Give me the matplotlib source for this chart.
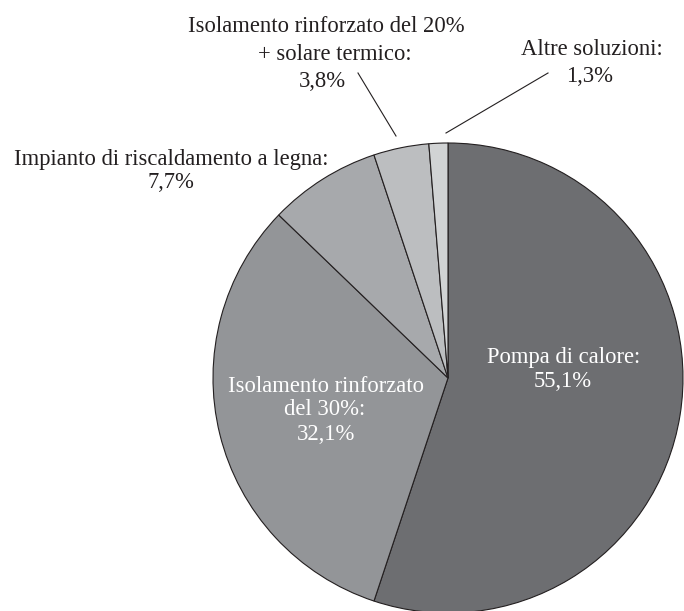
import matplotlib
matplotlib.use("Agg")
import matplotlib.pyplot as plt

categories = ["Pompa di calore", "Isolamento rinforzato del 30%", "Impianto di riscaldamento a legna",
              "Isolamento rinforzato del 20% + solare termico", "Altre soluzioni"]
values = [55.1, 32.1, 7.7, 3.8, 1.3]
colors = ["#6d6e71", "#939598", "#a7a9ac", "#bcbec0", "#d1d3d4"]

plt.rcParams['font.family'] = ['Liberation Serif', 'DejaVu Serif']

fig = plt.figure(figsize=(6.84, 6.11), dpi=100)
ax = fig.add_axes([0, 0, 1, 1])
cx, cy, r = 448, 611 - 378, 235
ax.pie(values, colors=colors, startangle=90, counterclock=False, center=(cx, cy), radius=r,
       wedgeprops=dict(edgecolor="#231f20", linewidth=0.8))
ax.set_xlim(0, 684)
ax.set_ylim(0, 611)
ax.set_aspect('equal')
ax.axis('off')

fs = 16.3
def Y(y):
    return 611 - y

def lines(items, color):
    for x, y, s in items:
        ax.text(x, Y(y), s, color=color, ha="center", va="baseline", fontsize=fs)

lines([(564, 363, "Pompa di calore:"), (563, 387, "55,1%")], "white")
lines([(326, 392, "Isolamento rinforzato"), (325, 415, "del 30%:"), (326, 440, "32,1%")], "white")
lines([(171, 165, "Impianto di riscaldamento a legna:"), (171, 188, "7,7%")], "#231f20")
lines([(326, 32, "Isolamento rinforzato del 20%"), (335, 59.5, "+ solare termico:"), (322, 87, "3,8%")], "#231f20")
lines([(592, 55, "Altre soluzioni:"), (590, 82, "1,3%")], "#231f20")

ax.plot([358, 396], [Y(73), Y(136)], color="#231f20", lw=0.8)
ax.plot([548, 446], [Y(73), Y(133)], color="#231f20", lw=0.8)

fig.savefig("out.png", dpi=100)
